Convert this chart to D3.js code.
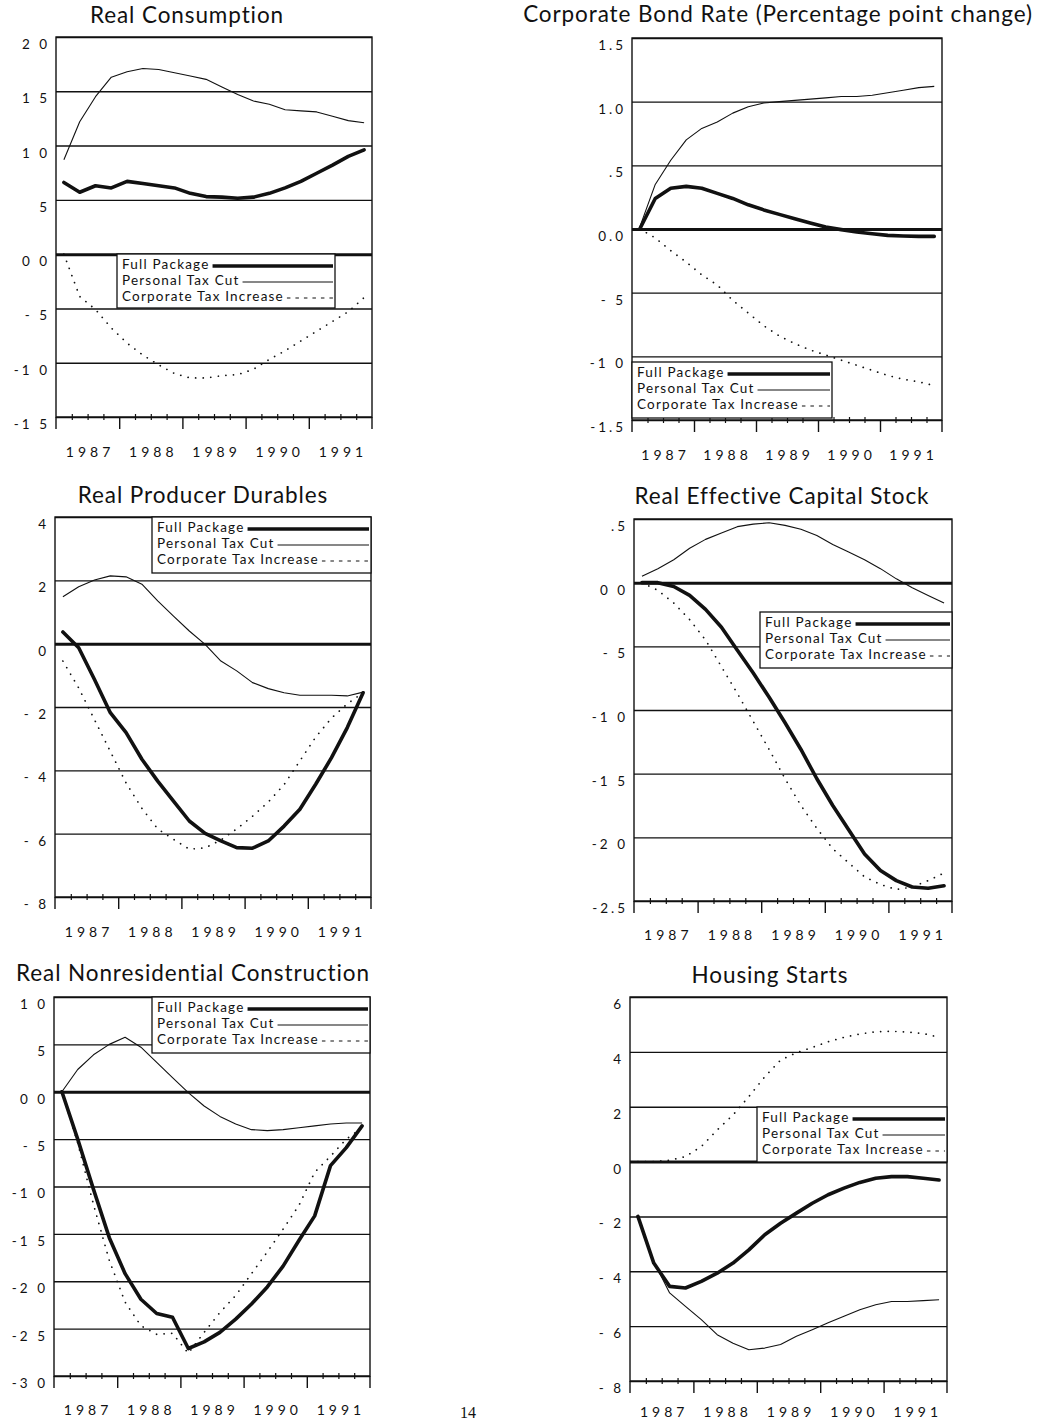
<!DOCTYPE html>
<html>
<head>
<meta charset="utf-8">
<script src="https://cdn.jsdelivr.net/npm/d3@7"></script>
<style>
body { margin: 0; background: #fff; }
svg { display: block; font-family: Lato, "Open Sans", sans-serif; }
</style>
</head>
<body>
<svg id="chart"></svg>
<script>
const years = [1987, 1988, 1989, 1990, 1991];
const seriesNames = ["Full Package", "Personal Tax Cut", "Corporate Tax Increase"];

// quarterly values, 1987Q1 .. 1991Q4
const consumptionFull = [0.66, 0.57, 0.63, 0.61, 0.67, 0.65, 0.63, 0.61, 0.56, 0.53, 0.525, 0.515, 0.525, 0.56, 0.61, 0.67, 0.745, 0.82, 0.90, 0.96];
const consumptionPersonal = [0.87, 1.22, 1.45, 1.63, 1.68, 1.71, 1.70, 1.67, 1.64, 1.61, 1.54, 1.47, 1.41, 1.38, 1.33, 1.32, 1.31, 1.27, 1.23, 1.21];
const consumptionCorporate = [0.0, -0.39, -0.51, -0.68, -0.82, -0.93, -1.02, -1.10, -1.14, -1.14, -1.12, -1.11, -1.06, -0.97, -0.89, -0.80, -0.71, -0.62, -0.53, -0.40];
const consumptionTicks = [2.0, 1.5, 1.0, 0.5, 0, -0.5, -1.0, -1.5];
const consumptionTickLabels = ["2 0", "1 5", "1 0", "5", "0 0", "- 5", "-1 0", "-1 5"];

const bondFull = [0, 0.24, 0.32, 0.335, 0.32, 0.28, 0.24, 0.19, 0.15, 0.115, 0.08, 0.047, 0.016, -0.005, -0.024, -0.037, -0.05, -0.055, -0.058, -0.058];
const bondPersonal = [0.015, 0.35, 0.54, 0.70, 0.79, 0.84, 0.91, 0.96, 0.99, 1.00, 1.01, 1.02, 1.03, 1.04, 1.04, 1.05, 1.07, 1.09, 1.11, 1.12];
const bondCorporate = [0, -0.07, -0.17, -0.26, -0.36, -0.44, -0.56, -0.66, -0.76, -0.84, -0.90, -0.95, -0.99, -1.03, -1.07, -1.11, -1.15, -1.18, -1.20, -1.23];
const bondTicks = [1.5, 1.0, 0.5, 0, -0.5, -1.0, -1.5];
const bondTickLabels = ["1.5", "1.0", ".5", "0.0", "- 5", "-1 0", "-1.5"];

const durablesFull = [0.37, -0.13, -1.13, -2.18, -2.81, -3.65, -4.34, -4.97, -5.6, -5.99, -6.23, -6.44, -6.46, -6.23, -5.76, -5.23, -4.44, -3.6, -2.65, -1.55];
const durablesPersonal = [1.48, 1.80, 2.01, 2.14, 2.11, 1.88, 1.35, 0.87, 0.40, -0.02, -0.55, -0.86, -1.23, -1.42, -1.55, -1.63, -1.63, -1.63, -1.65, -1.53];
const durablesCorporate = [-0.55, -1.4, -2.4, -3.4, -4.4, -5.2, -5.85, -6.18, -6.49, -6.45, -6.2, -5.85, -5.45, -5.0, -4.45, -3.7, -2.95, -2.35, -1.9, -1.55];
const durablesTicks = [4, 2, 0, -2, -4, -6, -8];
const durablesTickLabels = ["4", "2", "0", "- 2", "- 4", "- 6", "- 8"];

const capitalFull = [0, 0, -0.03, -0.10, -0.21, -0.35, -0.53, -0.71, -0.90, -1.10, -1.31, -1.54, -1.75, -1.94, -2.13, -2.26, -2.34, -2.39, -2.40, -2.38];
const capitalPersonal = [0.05, 0.11, 0.18, 0.27, 0.34, 0.39, 0.44, 0.46, 0.47, 0.45, 0.42, 0.37, 0.30, 0.24, 0.18, 0.11, 0.03, -0.04, -0.10, -0.16];
const capitalCorporate = [0, -0.06, -0.16, -0.29, -0.45, -0.66, -0.87, -1.09, -1.31, -1.54, -1.75, -1.93, -2.09, -2.20, -2.31, -2.37, -2.41, -2.39, -2.34, -2.28];
const capitalTicks = [0.5, 0, -0.5, -1.0, -1.5, -2.0, -2.5];
const capitalTickLabels = [".5", "0 0", "- 5", "-1 0", "-1 5", "-2 0", "-2.5"];

const constructionFull = [0, -0.50, -1.03, -1.54, -1.92, -2.19, -2.34, -2.38, -2.71, -2.64, -2.54, -2.40, -2.24, -2.06, -1.84, -1.57, -1.31, -0.78, -0.59, -0.36];
const constructionPersonal = [0, 0.235, 0.39, 0.50, 0.575, 0.47, 0.31, 0.15, -0.01, -0.15, -0.26, -0.34, -0.40, -0.41, -0.40, -0.38, -0.36, -0.34, -0.33, -0.33];
const constructionCorporate = [0, -0.54, -1.19, -1.78, -2.22, -2.47, -2.56, -2.55, -2.76, -2.54, -2.33, -2.15, -1.92, -1.69, -1.45, -1.20, -0.85, -0.68, -0.50, -0.38];
const constructionTicks = [1.0, 0.5, 0, -0.5, -1.0, -1.5, -2.0, -2.5, -3.0];
const constructionTickLabels = ["1 0", "5", "0 0", "- 5", "-1 0", "-1 5", "-2 0", "-2 5", "-3 0"];

const housingFull = [-2.0, -3.70, -4.55, -4.61, -4.37, -4.07, -3.70, -3.22, -2.67, -2.25, -1.88, -1.52, -1.21, -0.97, -0.76, -0.61, -0.55, -0.55, -0.61, -0.67];
const housingPersonal = [-2.0, -3.64, -4.79, -5.28, -5.76, -6.31, -6.62, -6.86, -6.80, -6.67, -6.37, -6.13, -5.88, -5.64, -5.40, -5.22, -5.10, -5.10, -5.07, -5.04];
const housingCorporate = [0, 0, 0.05, 0.18, 0.55, 1.15, 1.70, 2.37, 3.09, 3.70, 3.97, 4.16, 4.37, 4.53, 4.65, 4.73, 4.75, 4.72, 4.67, 4.53];
const housingTicks = [6, 4, 2, 0, -2, -4, -6, -8];
const housingTickLabels = ["6", "4", "2", "0", "- 2", "- 4", "- 6", "- 8"];

const ink = "#111";

// panel layout: box = [left, top, right, bottom], legend = [left, top, right, bottom]
const panels = [
    {title: "Real Consumption", tx: 187, ty: 23, box: [56, 37, 372, 417], domain: [-1.5, 2.0],
     ticks: consumptionTicks, labels: consumptionTickLabels, yearY: 457, legend: [117, 254, 335, 308],
     series: [consumptionFull, consumptionPersonal, consumptionCorporate]},
    {title: "Corporate Bond Rate (Percentage point change)", tx: 778, ty: 22, box: [632, 38, 942, 420], domain: [-1.5, 1.5],
     ticks: bondTicks, labels: bondTickLabels, yearY: 460, legend: [632, 362, 832, 418],
     series: [bondFull, bondPersonal, bondCorporate]},
    {title: "Real Producer Durables", tx: 203, ty: 503, box: [55, 517, 371, 897], domain: [-8, 4],
     ticks: durablesTicks, labels: durablesTickLabels, yearY: 937, legend: [152, 517, 371, 573],
     series: [durablesFull, durablesPersonal, durablesCorporate]},
    {title: "Real Effective Capital Stock", tx: 782, ty: 504, box: [634, 519, 952, 901], domain: [-2.5, 0.5],
     ticks: capitalTicks, labels: capitalTickLabels, yearY: 940, legend: [760, 612, 952, 668],
     series: [capitalFull, capitalPersonal, capitalCorporate]},
    {title: "Real Nonresidential Construction", tx: 193, ty: 981, box: [54, 997, 370, 1376], domain: [-3, 1],
     ticks: constructionTicks, labels: constructionTickLabels, yearY: 1415, legend: [152, 997, 370, 1053],
     series: [constructionFull, constructionPersonal, constructionCorporate]},
    {title: "Housing Starts", tx: 770, ty: 983, box: [630, 997, 947, 1381], domain: [-8, 6],
     ticks: housingTicks, labels: housingTickLabels, yearY: 1417, legend: [757, 1107, 947, 1162],
     series: [housingFull, housingPersonal, housingCorporate]}
];

const styles = [
    {width: 3.6, dash: null, cap: "round"},
    {width: 1.1, dash: null, cap: "butt"},
    {width: 1.7, dash: "0.1,7.5", cap: "round"}
];

const chart = d3.select("#chart")
    .attr("width", 1055)
    .attr("height", 1423);

chart.append("rect").attr("width", 1055).attr("height", 1423).attr("fill", "#fff");

const minorTicks = d3.range(1987, 1992, 0.25).filter(d => d % 1 !== 0);

panels.forEach(function(p) {
    const [left, top, right, bottom] = p.box;
    const w = right - left, h = bottom - top;

    const x = d3.scaleLinear().domain([1987, 1992]).range([0, w]);
    const y = d3.scaleLinear().domain(p.domain).range([h, 0]);

    chart.append("text")
        .attr("x", p.tx).attr("y", p.ty)
        .attr("text-anchor", "middle")
        .attr("font-size", 22.5)
        .attr("letter-spacing", 0.9)
        .attr("fill", ink)
        .text(p.title);

    const g = chart.append("g").attr("transform", `translate(${left},${top})`);

    // gridlines + y labels
    const yAxis = g.append("g")
        .call(d3.axisLeft(y).tickValues(p.ticks).tickSize(-w).tickPadding(6)
            .tickFormat((d, i) => p.labels[i]));
    yAxis.select(".domain").remove();
    yAxis.selectAll("line")
        .attr("stroke", ink)
        .attr("stroke-width", d => d === 0 ? 3 : 1.4);
    yAxis.selectAll("text")
        .attr("font-size", 13.5)
        .attr("letter-spacing", 3)
        .attr("dy", "0.85em")
        .attr("fill", ink)
        .attr("font-family", "Lato, sans-serif");

    // frame
    g.append("rect")
        .attr("width", w).attr("height", h)
        .attr("fill", "none").attr("stroke", ink).attr("stroke-width", 1.4);
    g.append("line").attr("x1", 0).attr("x2", 0).attr("y1", h).attr("y2", h + 12)
        .attr("stroke", ink).attr("stroke-width", 1.4);
    g.append("line").attr("x1", w).attr("x2", w).attr("y1", h).attr("y2", h + 12)
        .attr("stroke", ink).attr("stroke-width", 1.4);

    // quarter ticks crossing the bottom line
    const minorAxis = g.append("g").attr("transform", `translate(0,${h - 3})`)
        .call(d3.axisBottom(x).tickValues(minorTicks).tickSize(6).tickFormat(""));
    minorAxis.select(".domain").remove();
    minorAxis.selectAll("line").attr("stroke", ink).attr("stroke-width", 1.2);

    // year ticks
    const majorAxis = g.append("g").attr("transform", `translate(0,${h})`)
        .call(d3.axisBottom(x).tickValues(years.slice(1)).tickSize(12).tickFormat(""));
    majorAxis.select(".domain").remove();
    majorAxis.selectAll("line").attr("stroke", ink).attr("stroke-width", 1.4);

    // year labels
    const yearAxis = g.append("g").attr("transform", `translate(0,${p.yearY - top})`)
        .call(d3.axisBottom(x).tickValues(years.map(d => d + 0.5)).tickSize(0)
            .tickFormat(d => Math.floor(d)));
    yearAxis.select(".domain").remove();
    yearAxis.selectAll("text")
        .attr("y", 0).attr("dy", 0).attr("dx", 2)
        .attr("font-size", 14)
        .attr("letter-spacing", 4)
        .attr("fill", ink)
        .attr("font-family", "Lato, sans-serif");

    // series lines
    const line = d3.line()
        .defined(d => d != null)
        .x((d, i) => x(1987 + (i + 0.5) / 4))
        .y(d => y(d))
        .curve(d3.curveLinear);

    [2, 1, 0].forEach(function(k) {
        g.append("path")
            .datum(p.series[k])
            .attr("d", line)
            .attr("fill", "none")
            .attr("stroke", ink)
            .attr("stroke-width", styles[k].width)
            .attr("stroke-linecap", styles[k].cap)
            .attr("stroke-linejoin", "round")
            .attr("stroke-dasharray", styles[k].dash);
    });

    // legend
    const [ll, lt, lr, lb] = p.legend;
    const lg = chart.append("g");
    lg.append("rect")
        .attr("x", ll).attr("y", lt).attr("width", lr - ll).attr("height", lb - lt)
        .attr("fill", "#fff").attr("stroke", ink).attr("stroke-width", 1.3);
    seriesNames.forEach(function(name, k) {
        const by = lt + 15 + k * 16;
        const t = lg.append("text")
            .attr("x", ll + 5).attr("y", by)
            .attr("font-size", 13.5)
            .attr("letter-spacing", 1.2)
            .attr("fill", ink)
            .text(name);
        const tw = t.node().getComputedTextLength();
        lg.append("line")
            .attr("x1", ll + 5 + tw + 3).attr("x2", lr - 2)
            .attr("y1", by - 3).attr("y2", by - 3)
            .attr("stroke", ink)
            .attr("stroke-width", k === 0 ? 3.6 : (k === 1 ? 1.1 : 1.2))
            .attr("stroke-dasharray", k === 2 ? "3.5,5" : null);
    });
});

chart.append("text")
    .attr("x", 468).attr("y", 1418)
    .attr("text-anchor", "middle")
    .attr("font-size", 16)
    .attr("font-family", "Liberation Serif, serif")
    .attr("fill", ink)
    .text("14");
</script>
</body>
</html>
